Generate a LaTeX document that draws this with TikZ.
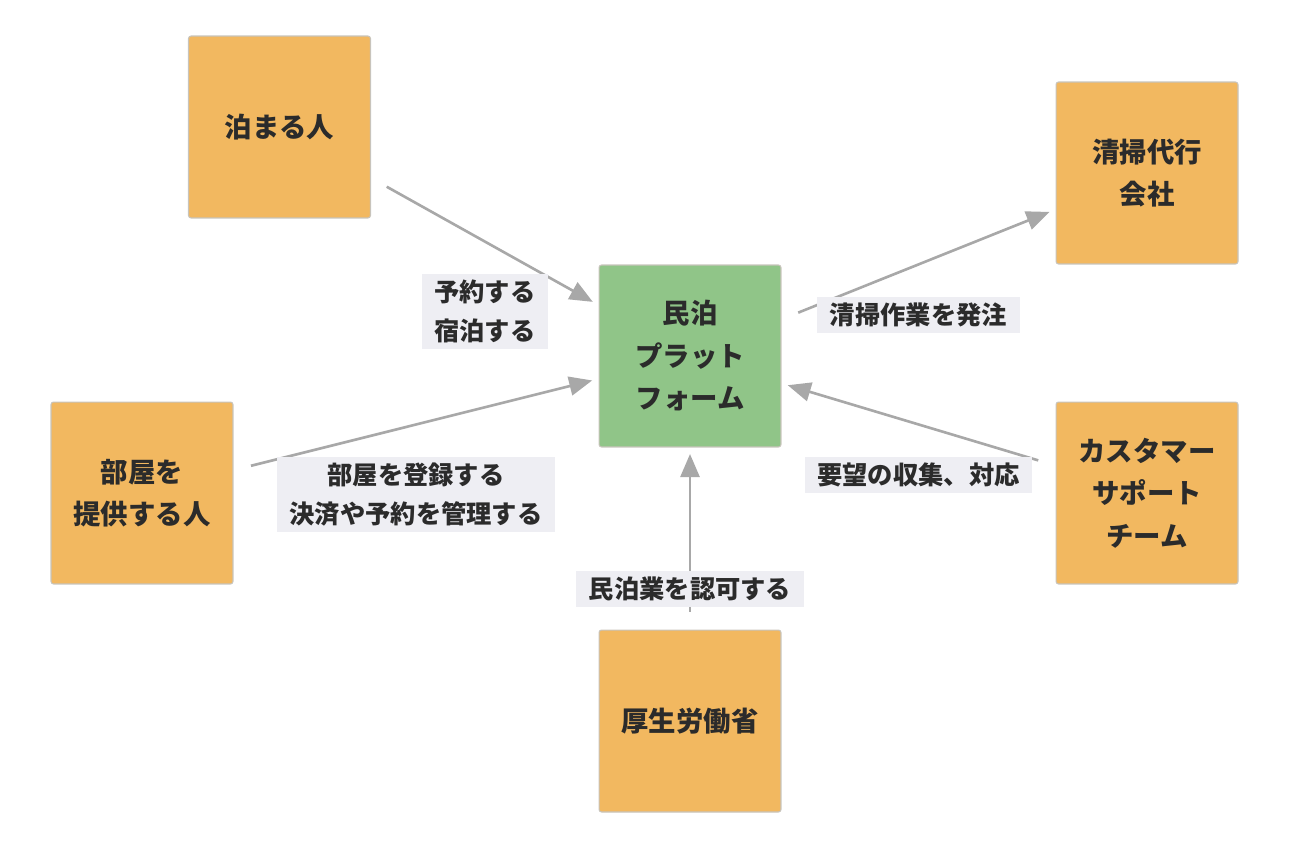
\documentclass[tikz,border=0pt]{standalone}
\usepackage{fontspec}
\usetikzlibrary{arrows.meta}
\newfontfamily\jp{Noto Sans CJK JP}
\definecolor{boxorange}{HTML}{F2B860}
\definecolor{boxgreen}{HTML}{90C588}
\definecolor{boxline}{HTML}{C8C4BC}
\definecolor{edgegray}{HTML}{A8A8A8}
\definecolor{labelbg}{HTML}{EEEEF3}
\definecolor{ink}{HTML}{2B2B2B}
\tikzset{
  actor/.style = {draw=boxline, line width=0.6pt, fill=boxorange, rounded corners=0.05cm,
    minimum width=3.64cm, minimum height=3.64cm, align=center, text=ink,
    font={\jp\bfseries\fontsize{15.6}{24.2}\selectfont}},
  hub/.style = {actor, fill=boxgreen},
  flow/.style = {draw=edgegray, line width=1.5pt, -{Triangle[length=0.46cm, width=0.38cm]},
    shorten <=0.36cm, shorten >=0.13cm},
  tag/.style = {midway, anchor=north, yshift=-0.62cm, fill=labelbg, text=ink, align=center,
    inner xsep=0.25cm, inner ysep=0.12cm, font={\jp\bfseries\fontsize{14.4}{22.2}\selectfont}}
}
\begin{document}
\begin{tikzpicture}[x=0.02cm, y=-0.02cm]
  \useasboundingbox (0,0) rectangle (1300,866);

  \node[hub] (plat) at (690,356) {民泊\\プラット\\フォーム};
  \node[actor] (guest) at (279.5,127) {泊まる人};
  \node[actor] (host) at (142,493) {部屋を\\提供する人};
  \node[actor] (clean) at (1147,173) {清掃代行\\会社};
  \node[actor] (support) at (1147,493) {カスタマー\\サポート\\チーム};
  \node[actor] (mhlw) at (690,721) {厚生労働省};

  \draw[flow] (guest) -- node[tag]{予約する\\宿泊する} (plat);
  \draw[flow] (host) -- node[tag]{部屋を登録する\\決済や予約を管理する} (plat);
  \draw[flow] (mhlw) -- node[tag]{民泊業を認可する} (plat);
  \draw[flow] (plat) -- node[tag]{清掃作業を発注} (clean);
  \draw[flow] (support) -- node[tag]{要望の収集、対応} (plat);
\end{tikzpicture}
\end{document}
